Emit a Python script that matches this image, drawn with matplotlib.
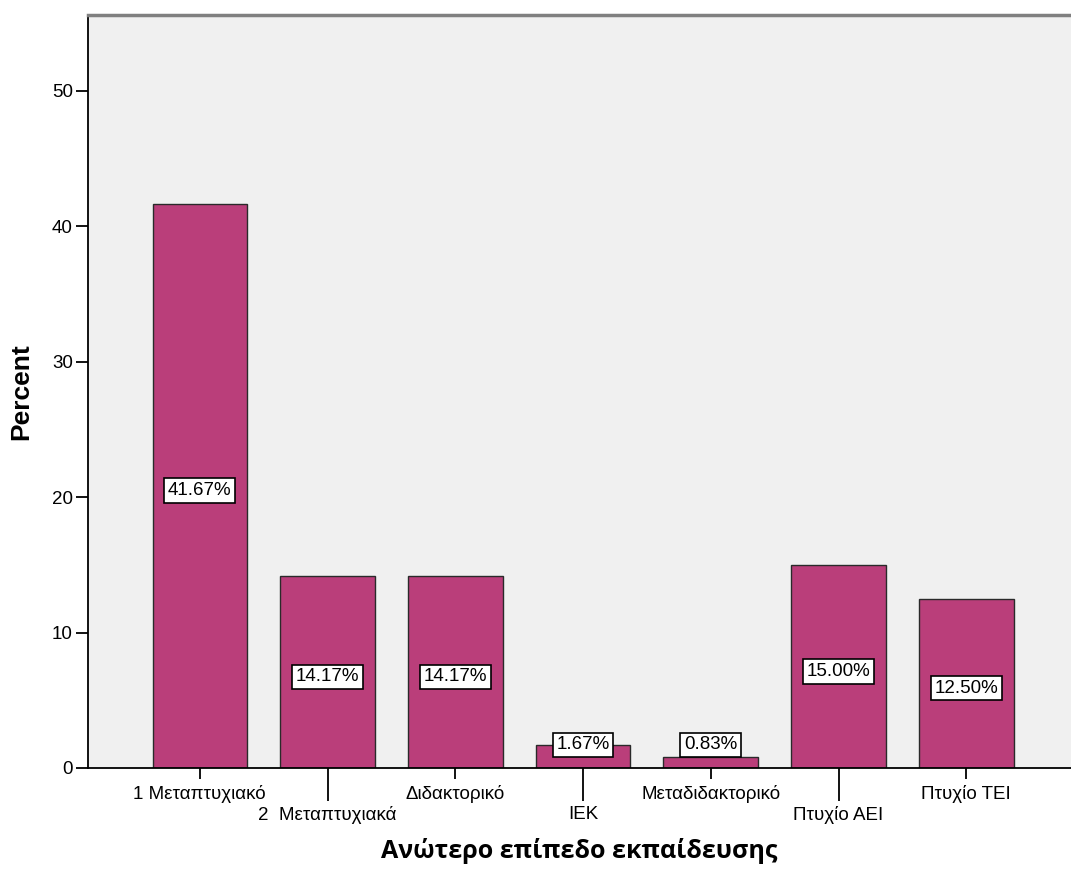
import matplotlib
matplotlib.use('Agg')
from matplotlib import pyplot as plt

# education level data (percent of respondents)
categories = ['1 Μεταπτυχιακό', '2  Μεταπτυχιακά', 'Διδακτορικό', 'ΙΕΚ',
              'Μεταδιδακτορικό', 'Πτυχίο ΑΕΙ', 'Πτυχίο ΤΕΙ']
percents = [41.67, 14.17, 14.17, 1.67, 0.83, 15.00, 12.50]
lower_row = [1, 3, 5]  # labels drawn on the second line

plt.rcParams['font.family'] = ['Liberation Sans', 'DejaVu Sans']

fig = plt.figure(figsize=(10.71, 8.69), dpi=100)
ax = fig.add_axes([88 / 1071, 101 / 869, 983 / 1071, 753 / 869])
ax.set_facecolor('#F0F0F0')

x = list(range(len(categories)))
ax.bar(x, percents, width=0.74, color='#BA3E7A', edgecolor='#2a2a2a', linewidth=1, zorder=2)

# value labels in the middle of the bar, pushed up for the tiny bars
for xi, v in zip(x, percents):
    small = v / 2 < 1.7
    ax.annotate('%.2f%%' % v, (xi, max(v / 2, 1.7)), xytext=(0, 0 if small else -3.5),
                textcoords='offset points', ha='center', va='center', fontsize=13.5,
                bbox=dict(boxstyle='square,pad=0.2', fc='white', ec='black', lw=1.2), zorder=3)

ax.set_xlim(-0.875, 6.82)
ax.set_ylim(0, 55.6)
ax.set_yticks([0, 10, 20, 30, 40, 50])
ax.tick_params(axis='y', length=9, width=1.3, labelsize=13.5, pad=2)

upper = [i for i in x if i not in lower_row]
ax.set_xticks(upper, [categories[i] for i in upper])
ax.set_xticks(lower_row, [categories[i] for i in lower_row], minor=True)
ax.tick_params(axis='x', which='major', length=8, width=1.3, labelsize=13.5, pad=4.5)
ax.tick_params(axis='x', which='minor', length=24, width=1.3, labelsize=13.5, pad=3.5)

for s in ['left', 'bottom']:
    ax.spines[s].set_color('black')
    ax.spines[s].set_linewidth(1.3)
ax.spines['top'].set_color('#808080')
ax.spines['top'].set_linewidth(2.5)
ax.spines['right'].set_visible(False)

ax.set_ylabel('Percent', fontsize=19, fontweight='bold', labelpad=13)
ax.set_xlabel('Ανώτερο επίπεδο εκπαίδευσης', fontsize=18, fontweight='bold',
              family=['Open Sans', 'DejaVu Sans'], labelpad=10)

fig.savefig('out.png', dpi=100)
